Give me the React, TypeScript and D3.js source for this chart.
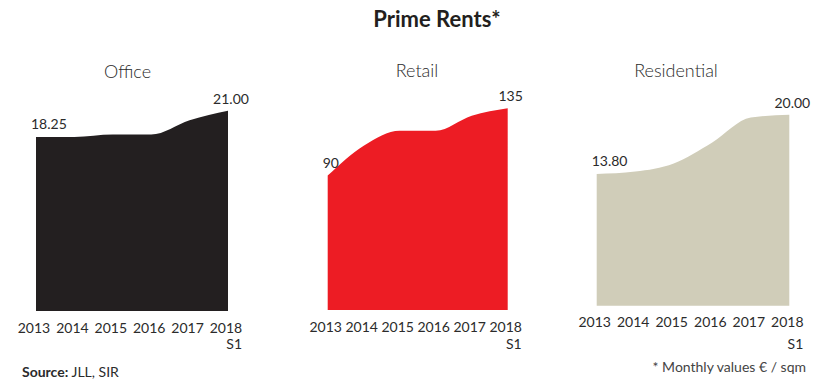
import React from "react";
import * as d3 from "d3";

const years = ["2013", "2014", "2015", "2016", "2017", "2018"];
const officeValues = [18.25, 18.25, 18.5, 18.5, 20.0, 21.0];
const retailValues = [90, 110, 120, 120, 130, 135];
const residentialValues = [13.8, 14.05, 14.9, 17.1, 19.7, 20.0];
const officeLabels = ["18.25", "21.00"];
const retailLabels = ["90", "135"];
const residentialLabels = ["13.80", "20.00"];
const panelTitles = ["Office", "Retail", "Residential"];

const W = 820;
const H = 381;
const FONT = "Lato, 'Open Sans', sans-serif";
const TEXT = "#2b2b2b";

type Panel = {
  title: string;
  values: number[];
  labels: string[];
  color: string;
  x0: number;
  x1: number;
  bottom: number;
  top: number;
  titleX: number;
  titleY: number;
  s1Gap: number;
};

const panels: Panel[] = [
  { title: panelTitles[0], values: officeValues, labels: officeLabels, color: "#231f20", x0: 36, x1: 228, bottom: 311, top: 110.7, titleX: 127.5, titleY: 77.5, s1Gap: 16 },
  { title: panelTitles[1], values: retailValues, labels: retailLabels, color: "#ed1c24", x0: 327.7, x1: 507.7, bottom: 310, top: 108.3, titleX: 417, titleY: 76.5, s1Gap: 17 },
  { title: panelTitles[2], values: residentialValues, labels: residentialLabels, color: "#d0cdb9", x0: 596.7, x1: 789.3, bottom: 305.7, top: 114.7, titleX: 676, titleY: 76.5, s1Gap: 21.5 },
];

function PanelChart({ p }: { p: Panel }) {
  const x = d3.scalePoint<string>().domain(years).range([p.x0, p.x1]);
  const maxV = d3.max(p.values) as number;
  const y = d3.scaleLinear().domain([0, maxV]).range([p.bottom, p.top]);
  const area = d3
    .area<number>()
    .x((_, i) => x(years[i]) as number)
    .y0(p.bottom)
    .y1((d) => y(d))
    .curve(d3.curveMonotoneX);
  const first = p.values[0];
  const last = p.values[p.values.length - 1];
  const labelBase = p.bottom + 21.5;
  return (
    <g>
      <text x={p.titleX} y={p.titleY} textAnchor="middle" fontSize={18} fontWeight={300} fill={TEXT} fontFamily={FONT}>
        {p.title}
      </text>
      <path d={area(p.values) || ""} fill={p.color} />
      <text x={(x(years[0]) as number) - 5} y={y(first) - 8} fontSize={14} fill={TEXT} fontFamily={FONT}>
        {p.labels[0]}
      </text>
      <text x={(x(years[years.length - 1]) as number) + 3} y={y(last) - 7} textAnchor="middle" fontSize={14} fill={TEXT} fontFamily={FONT}>
        {p.labels[1]}
      </text>
      {years.map((yr) => (
        <text key={yr} x={(x(yr) as number) - 2} y={labelBase} textAnchor="middle" fontSize={14} fill={TEXT} fontFamily={FONT}>
          {yr}
        </text>
      ))}
      <text x={(x(years[years.length - 1]) as number) + 14} y={labelBase + p.s1Gap} textAnchor="end" fontSize={14} fill={TEXT} fontFamily={FONT}>
        S1
      </text>
    </g>
  );
}

export default function App() {
  return (
    <svg width={W} height={H} style={{ position: "absolute", left: 0, top: 0, background: "#fff" }}>
      <rect width={W} height={H} fill="#fff" />
      <text x={437} y={27} textAnchor="middle" fontSize={22} fontWeight={700} fill="#231f20" fontFamily={FONT}>
        Prime Rents*
      </text>
      {panels.map((p) => (
        <PanelChart key={p.title} p={p} />
      ))}
      <text x={22} y={377} fontSize={14} fill={TEXT} fontFamily={FONT}>
        <tspan fontWeight={700}>Source:</tspan>
        <tspan> JLL, SIR</tspan>
      </text>
      <text x={806} y={372} textAnchor="end" fontSize={14} fill="#444" fontFamily={FONT}>
        * Monthly values € / sqm
      </text>
    </svg>
  );
}
